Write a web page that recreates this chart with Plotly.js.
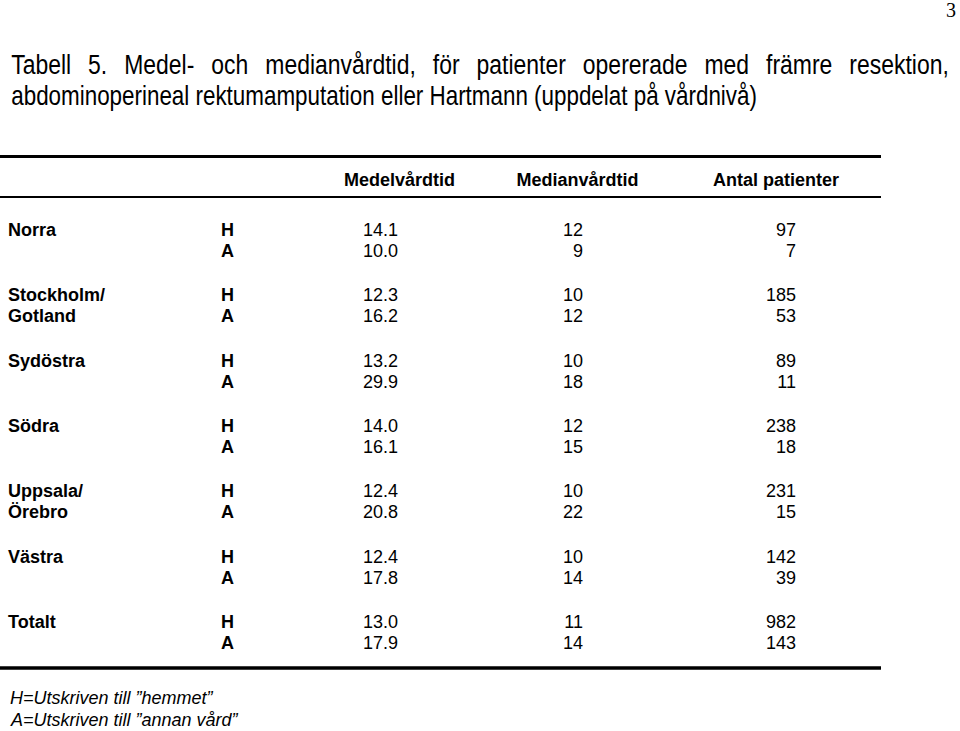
<!DOCTYPE html>
<html>
<head>
<meta charset="utf-8">
<script src="https://cdn.plot.ly/plotly-3.0.1.min.js"></script>
<style>
  html, body { margin: 0; padding: 0; background: #fff; }
  #chart { width: 960px; height: 731px; }
</style>
</head>
<body>
<div id="chart"></div>
<script>
// ---- Data ----
var titleLines = [
  "Tabell 5. Medel- och medianvårdtid, för patienter opererade med främre resektion,",
  "abdominoperineal rektumamputation eller Hartmann (uppdelat på vårdnivå)"
];
var columns = ["Medelvårdtid", "Medianvårdtid", "Antal patienter"];
var regionLine1 = ["Norra", "Stockholm/", "Sydöstra", "Södra", "Uppsala/", "Västra", "Totalt"];
var regionLine2 = ["", "Gotland", "", "", "Örebro", "", ""];
var discharge = ["H", "A"];
var medelH = [14.1, 12.3, 13.2, 14.0, 12.4, 12.4, 13.0];
var medelA = [10.0, 16.2, 29.9, 16.1, 20.8, 17.8, 17.9];
var medianH = [12, 10, 10, 12, 10, 10, 11];
var medianA = [9, 12, 18, 15, 22, 14, 14];
var antalH = [97, 185, 89, 238, 231, 142, 982];
var antalA = [7, 53, 11, 18, 15, 39, 143];
var footnotes = ["H=Utskriven till ”hemmet”", "A=Utskriven till ”annan vård”"];
var pageNumber = "3";

// ---- Layout constants (positions / styles) ----
var FONT = "Liberation Sans, Arial, sans-serif";
var firstRowY = 231.5, groupPitch = 65.3, subPitch = 21;
var colX = { region: 8, code: 227.5, medel: 398, median: 583, antal: 796 };
var headerX = [399.5, 577.5, 776];
var headerY = 181;
var TITLE_SIZE = 27;
var TITLE_SCALE_X = [0.85, 0.83];
var TITLE_WORD_SPACING = [12.5, 0]; // first line is justified in the reference

function rowY(g, s) { return firstRowY + g * groupPitch + s * subPitch; }

var traces = [];
function textTrace(xs, ys, texts, pos, bold) {
  traces.push({
    type: "scatter", mode: "text", x: xs, y: ys, text: texts,
    textposition: pos, hoverinfo: "skip", showlegend: false, cliponaxis: false,
    textfont: { family: FONT, size: 18, color: "#000", weight: bold ? "bold" : "normal" }
  });
}

var n = regionLine1.length;
var regX = [], regY = [], regT = [];
var codeX = [], codeY = [], codeT = [];
var mdX = [], mdY = [], mdT = [];
var miX = [], miY = [], miT = [];
var anX = [], anY = [], anT = [];
for (var g = 0; g < n; g++) {
  var lines = [regionLine1[g], regionLine2[g]];
  var medel = [medelH[g], medelA[g]];
  var median = [medianH[g], medianA[g]];
  var antal = [antalH[g], antalA[g]];
  for (var s = 0; s < 2; s++) {
    var y = rowY(g, s);
    if (lines[s]) { regX.push(colX.region); regY.push(y); regT.push(lines[s]); }
    codeX.push(colX.code); codeY.push(y); codeT.push(discharge[s]);
    mdX.push(colX.medel); mdY.push(y); mdT.push(medel[s].toFixed(1));
    miX.push(colX.median); miY.push(y); miT.push(String(median[s]));
    anX.push(colX.antal); anY.push(y); anT.push(String(antal[s]));
  }
}
textTrace(regX, regY, regT, "middle right", true);
textTrace(codeX, codeY, codeT, "middle center", true);
textTrace(mdX, mdY, mdT, "middle left", false);
textTrace(miX, miY, miT, "middle left", false);
textTrace(anX, anY, anT, "middle left", false);
textTrace(headerX, columns.map(function(){ return headerY; }), columns, "middle center", true);

var annotations = [];
titleLines.forEach(function(t, i) {
  annotations.push({
    xref: "x", yref: "y", x: 9, y: 65 + i * 30.5, text: t, showarrow: false,
    xanchor: "left", yanchor: "middle",
    font: { family: FONT, size: TITLE_SIZE, color: "#000" }
  });
});
footnotes.forEach(function(t, i) {
  annotations.push({
    xref: "x", yref: "y", x: 8, y: 698 + i * 22, text: "<i>" + t + "</i>", showarrow: false,
    xanchor: "left", yanchor: "middle",
    font: { family: FONT, size: 18, color: "#000" }
  });
});
annotations.push({
  xref: "x", yref: "y", x: 958, y: 10, text: pageNumber, showarrow: false,
  xanchor: "right", yanchor: "middle",
  font: { family: "Liberation Serif, Times New Roman, serif", size: 20, color: "#000" }
});

var shapes = [
  { type: "line", xref: "x", yref: "y", x0: 0, x1: 881, y0: 156.5, y1: 156.5, line: { color: "#000", width: 3 } },
  { type: "line", xref: "x", yref: "y", x0: 0, x1: 881, y0: 197, y1: 197, line: { color: "#000", width: 2 } },
  { type: "line", xref: "x", yref: "y", x0: 0, x1: 881, y0: 668, y1: 668, line: { color: "#000", width: 3.5 } }
];

var layout = {
  width: 960, height: 731,
  margin: { l: 0, r: 0, t: 0, b: 0, pad: 0 },
  paper_bgcolor: "#fff", plot_bgcolor: "#fff",
  xaxis: { range: [0, 960], visible: false, fixedrange: true },
  yaxis: { range: [731, 0], visible: false, fixedrange: true },
  showlegend: false,
  annotations: annotations,
  shapes: shapes,
  font: { family: FONT, color: "#000" }
};

Plotly.newPlot("chart", traces, layout, { staticPlot: true, displayModeBar: false }).then(function(gd) {
  // The reference title is set in a condensed face (first line justified):
  // keep its left edge, widen word gaps, then narrow the glyphs horizontally.
  [0, 1].forEach(function(i) {
    var el = gd.querySelector('.annotation[data-index="' + i + '"] text.annotation-text');
    if (!el) return;
    var left0 = el.getBBox().x;
    el.style.wordSpacing = TITLE_WORD_SPACING[i] + "px";
    var left1 = el.getBBox().x;
    el.setAttribute("transform",
      "translate(" + left0 + ",0) scale(" + TITLE_SCALE_X[i] + ",1) translate(" + (-left1) + ",0)");
  });
});
</script>
</body>
</html>
